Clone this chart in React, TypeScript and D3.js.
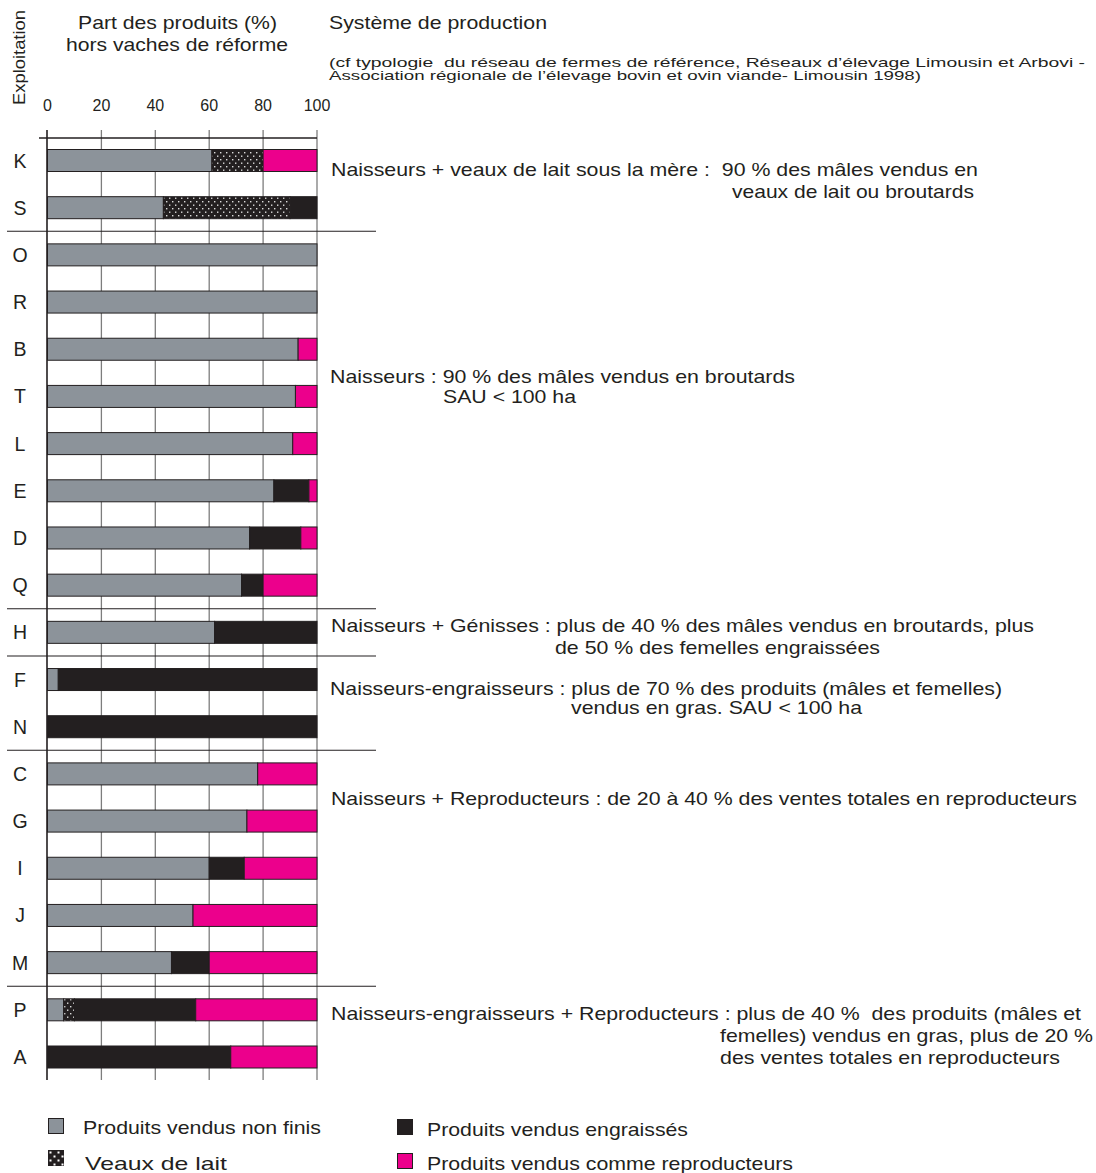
import React from "react";
import * as d3 from "d3";

const farms = ["K","S","O","R","B","T","L","E","D","Q","H","F","N","C","G","I","J","M","P","A"];
const nonFinis =      [61,43,100,100,93,92,91,84,75,72,62,4,0,78,74,60,54,46,6,0];
const veauxDeLait =   [19,47,0,0,0,0,0,0,0,0,0,0,0,0,0,0,0,0,4,0];
const engraisses =    [0,10,0,0,0,0,0,13,19,8,38,96,100,0,0,13,0,14,45,68];
const reproducteurs = [20,0,0,0,7,8,9,3,6,20,0,0,0,22,26,27,46,40,45,32];

const xTicks = [0,20,40,60,80,100];
// separators after these farms (group boundaries)
const groupEnds = ["S","Q","H","N","M"];

const groupTexts: { lines: string[]; x: number[]; cy: number[]; w: number[] }[] = [
  { lines: ["Naisseurs + veaux de lait sous la mère :  90 % des mâles vendus en", "veaux de lait ou broutards"], x: [331, 732], cy: [169, 191], w: [647, 242] },
  { lines: ["Naisseurs : 90 % des mâles vendus en broutards", "SAU < 100 ha"], x: [330, 443], cy: [376, 396], w: [465, 133] },
  { lines: ["Naisseurs + Génisses : plus de 40 % des mâles vendus en broutards, plus", "de 50 % des femelles engraissées"], x: [331, 555], cy: [625, 647], w: [703, 325] },
  { lines: ["Naisseurs-engraisseurs : plus de 70 % des produits (mâles et femelles)", "vendus en gras. SAU < 100 ha"], x: [330, 571], cy: [688, 707], w: [672, 291] },
  { lines: ["Naisseurs + Reproducteurs : de 20 à 40 % des ventes totales en reproducteurs"], x: [331], cy: [798], w: [746] },
  { lines: ["Naisseurs-engraisseurs + Reproducteurs : plus de 40 %  des produits (mâles et", "femelles) vendus en gras, plus de 20 %", "des ventes totales en reproducteurs"], x: [331, 720, 720], cy: [1013, 1035, 1057], w: [750, 373, 340] },
];

const seriesNames = ["Produits vendus non finis", "Veaux de lait", "Produits vendus engraissés", "Produits vendus comme reproducteurs"];

const GRAY = "#8c939a";
const BLACK = "#231f20";
const PINK = "#ec008c";
const FONT = "'Liberation Sans', Arial, Helvetica, sans-serif";

function T(props: { x: number; y: number; w?: number; size: number; anchor?: string; children: React.ReactNode }) {
  const { x, y, w, size, anchor, children } = props;
  return (
    <text x={x} y={y} fontSize={size} fill={BLACK} textAnchor={anchor || "start"}
      textLength={w} lengthAdjust={w ? "spacingAndGlyphs" : undefined} style={{ whiteSpace: "pre" }}>
      {children}
    </text>
  );
}

export default function App() {
  const W = 1096, H = 1173;
  const x = d3.scaleLinear().domain([0, 100]).range([47.5, 317]);
  const y = d3.scalePoint<string>().domain(farms).range([160.5, 1057]);
  const barH = 22;
  const fills = [GRAY, "url(#veaux)", BLACK, PINK];
  const FS = 18.5;
  const off = 6.6;

  const rows = farms.map((f, i) => {
    const vals = [nonFinis[i], veauxDeLait[i], engraisses[i], reproducteurs[i]];
    let acc = 0;
    const segs = vals.map((v, k) => {
      const s = { x0: acc, x1: acc + v, fill: fills[k], k };
      acc += v;
      return s;
    }).filter(s => s.x1 > s.x0);
    return { f, segs };
  });

  const step = y.step();

  return (
    <svg width={W} height={H} style={{ position: "absolute", left: 0, top: 0, background: "#fff" }} fontFamily={FONT}>
      <defs>
        <pattern id="veaux" width="6" height="7" patternUnits="userSpaceOnUse">
          <rect width="6" height="7" fill={BLACK} />
          <rect x="1" y="1.5" width="1.4" height="1.4" fill="#dcdcdc" />
          <rect x="4" y="5" width="1.4" height="1.4" fill="#dcdcdc" />
        </pattern>
        <pattern id="veauxL" width="8" height="8" patternUnits="userSpaceOnUse" x="48" y="1150">
          <rect width="8" height="8" fill={BLACK} />
          <rect x="1.5" y="1.5" width="2" height="2" fill="#fff" />
          <rect x="5.5" y="5.5" width="2" height="2" fill="#fff" />
        </pattern>
      </defs>

      {/* header texts */}
      <text x={25} y={57.5} transform="rotate(-90 25 57.5)" textAnchor="middle" fontSize={17} fill={BLACK}
        textLength={95} lengthAdjust="spacingAndGlyphs">Exploitation</text>
      <T x={78} y={22 + off} w={199} size={FS}>Part des produits (%)</T>
      <T x={66} y={44 + off} w={222} size={FS}>hors vaches de réforme</T>
      <T x={329} y={22 + off} w={218} size={FS}>Système de production</T>
      <T x={329} y={66.5} w={756} size={13}>(cf typologie  du réseau de fermes de référence, Réseaux d’élevage Limousin et Arbovi -</T>
      <T x={329} y={80} w={592} size={13}>Association régionale de l’élevage bovin et ovin viande- Limousin 1998)</T>

      {/* tick labels */}
      {xTicks.map(t => (
        <text key={"tl" + t} x={x(t)} y={111} textAnchor="middle" fontSize={16} fill={BLACK}>{t}</text>
      ))}

      {/* gridlines */}
      {xTicks.filter(t => t > 0).map(t => (
        <line key={"g" + t} x1={x(t)} x2={x(t)} y1={130} y2={1080} stroke="#7d7d7d" strokeWidth={1.3} />
      ))}
      {/* axis */}
      <line x1={39} x2={x(100)} y1={138} y2={138} stroke={BLACK} strokeWidth={1.3} />
      <line x1={x(0) - 0.5} x2={x(0) - 0.5} y1={130} y2={1080} stroke={BLACK} strokeWidth={1.6} />

      {/* separators */}
      {groupEnds.map(f => {
        const yy = (y(f) as number) + step / 2;
        return <line key={"sep" + f} x1={7} x2={376} y1={yy} y2={yy} stroke={BLACK} strokeWidth={1.1} />;
      })}

      {/* bars */}
      {rows.map(r => (
        <g key={r.f}>
          <text x={20} y={(y(r.f) as number) + 7} textAnchor="middle" fontSize={19.5} fill={BLACK}>{r.f}</text>
          {r.segs.map(s => (
            <rect key={s.k} x={x(s.x0)} y={(y(r.f) as number) - barH / 2} width={x(s.x1) - x(s.x0)} height={barH}
              fill={s.fill} stroke={BLACK} strokeWidth={1} />
          ))}
        </g>
      ))}

      {/* group annotations */}
      {groupTexts.map((g, gi) => g.lines.map((l, li) => (
        <T key={gi + "-" + li} x={g.x[li]} y={g.cy[li] + off} w={g.w[li]} size={FS}>{l}</T>
      )))}

      {/* legend */}
      <rect x={48.5} y={1118.5} width={15} height={15} fill={GRAY} stroke={BLACK} strokeWidth={1} />
      <T x={83} y={1127 + off} w={238} size={FS}>{seriesNames[0]}</T>
      <rect x={48} y={1150} width={16} height={16} fill="url(#veauxL)" />
      <T x={85} y={1163 + off} w={142} size={FS}>{seriesNames[1]}</T>
      <rect x={397.5} y={1119.5} width={15} height={15} fill={BLACK} stroke={BLACK} strokeWidth={1} />
      <T x={427} y={1129 + off} w={261} size={FS}>{seriesNames[2]}</T>
      <rect x={397.5} y={1153.5} width={15} height={15} fill={PINK} stroke={BLACK} strokeWidth={1} />
      <T x={427} y={1163 + off} w={366} size={FS}>{seriesNames[3]}</T>
    </svg>
  );
}
